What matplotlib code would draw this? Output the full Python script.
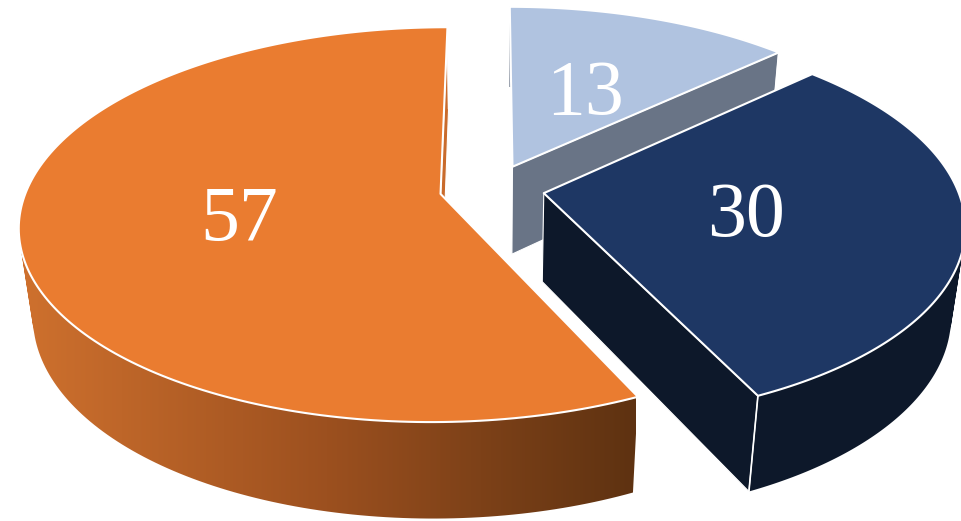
import numpy as np
import matplotlib
matplotlib.use('Agg')
import matplotlib.pyplot as plt
from matplotlib.colors import LinearSegmentedColormap
from matplotlib.patches import PathPatch
from matplotlib.path import Path

# pie values, clockwise from the top
labels = ['13', '30', '57']
values = [13, 30, 57]
top_colors = ['#B0C3E0', '#1E3764', '#EA7C30']
wall_colors = ['#697486', '#0D182A', '#C96B2C']

START = 0.0
EXPLODE = 0.127
LABEL_R = 0.487
LABEL_DROP = 6

# camera, in pixels
CX, CY = 492, 188.6
RX, RY = 413.5, 191
PERSP = 0.155
PERSP_Z = 0.03
DEPTH = 91


def project(px, py, z=0.0):
    w = 1 + PERSP * py + PERSP_Z * z
    return CX + RX * px / w, CY + (-RY * py + DEPTH * z) / w


def wedge_points(t0, t1, n=200):
    mid = np.radians((t0 + t1) / 2)
    ox, oy = EXPLODE * np.sin(mid), EXPLODE * np.cos(mid)
    t = np.radians(np.linspace(t0, t1, n))
    return ox, oy, ox + np.sin(t), oy + np.cos(t)


def wall_path(xt, yt, xb, yb):
    # one quad per rim step, all wound the same way so the fill is their union
    verts, codes = [], []
    for j in range(len(xt) - 1):
        q = [(xt[j], yt[j]), (xt[j + 1], yt[j + 1]), (xb[j + 1], yb[j + 1]), (xb[j], yb[j])]
        qx, qy = np.array(q).T
        area = np.sum(qx * np.roll(qy, -1) - np.roll(qx, -1) * qy)
        if area < 0:
            q = q[::-1]
        verts += q + [q[0]]
        codes += [Path.MOVETO, Path.LINETO, Path.LINETO, Path.LINETO, Path.CLOSEPOLY]
    return Path(verts, codes)


def poly(ax, x, y, color, zorder, lw=1.5, ec='white'):
    ax.fill(x, y, facecolor=color, edgecolor=ec, linewidth=lw, joinstyle='round', zorder=zorder)


fig = plt.figure(figsize=(9.61, 5.21), dpi=100)
ax = fig.add_axes([0, 0, 1, 1])
ax.set_xlim(0, 961)
ax.set_ylim(521, 0)
ax.axis('off')

edges = START + np.cumsum([0] + values) / sum(values) * 360
orange_cmap = LinearSegmentedColormap.from_list('wall', ['#CF712E', '#9C501F', '#5E3211'])

for i in range(len(values)):
    t0, t1 = edges[i], edges[i + 1]
    ox, oy, rx, ry = wedge_points(t0, t1)
    base = i * 10 + 1
    ax_x0, ax_y0 = project(ox, oy)
    ax_x1, ax_y1 = project(ox, oy, 1)

    # outer wall
    xt, yt = project(rx, ry)
    xb, yb = project(rx, ry, 1)
    path = wall_path(xt, yt, xb, yb)
    if labels[i] == '57':
        # orange wall is shaded left to right
        patch = PathPatch(path, facecolor='none', edgecolor='none', zorder=base)
        ax.add_patch(patch)
        im = ax.imshow(np.linspace(0, 1, 256)[None, :], cmap=orange_cmap, extent=(18, 636, 521, 0),
                       aspect='auto', zorder=base)
        im.set_clip_path(patch)
        ax.set_xlim(0, 961)
        ax.set_ylim(521, 0)
    else:
        ax.add_patch(PathPatch(path, facecolor=wall_colors[i], edgecolor='none', zorder=base))

    # only the wall on the closing radius faces the viewer
    ex0, ey0 = project(rx[-1], ry[-1])
    ex1, ey1 = project(rx[-1], ry[-1], 1)
    poly(ax, [ax_x0, ex0, ex1, ax_x1], [ax_y0, ey0, ey1, ax_y1], wall_colors[i], base + 1, lw=0.8)

    # front vertical corner
    ax.plot([ex0, ex1], [ey0, ey1], color='white', lw=1.2, zorder=base + 2)

    # top face
    poly(ax, np.r_[ax_x0, xt], np.r_[ax_y0, yt], top_colors[i], base + 3)

    mid = np.radians((t0 + t1) / 2)
    lx, ly = project((EXPLODE + LABEL_R) * np.sin(mid), (EXPLODE + LABEL_R) * np.cos(mid))
    ax.text(lx, ly + LABEL_DROP, labels[i], color='white', fontsize=56, family='Liberation Serif',
            ha='center', va='center', zorder=50)

fig.savefig('out.png', dpi=100)
